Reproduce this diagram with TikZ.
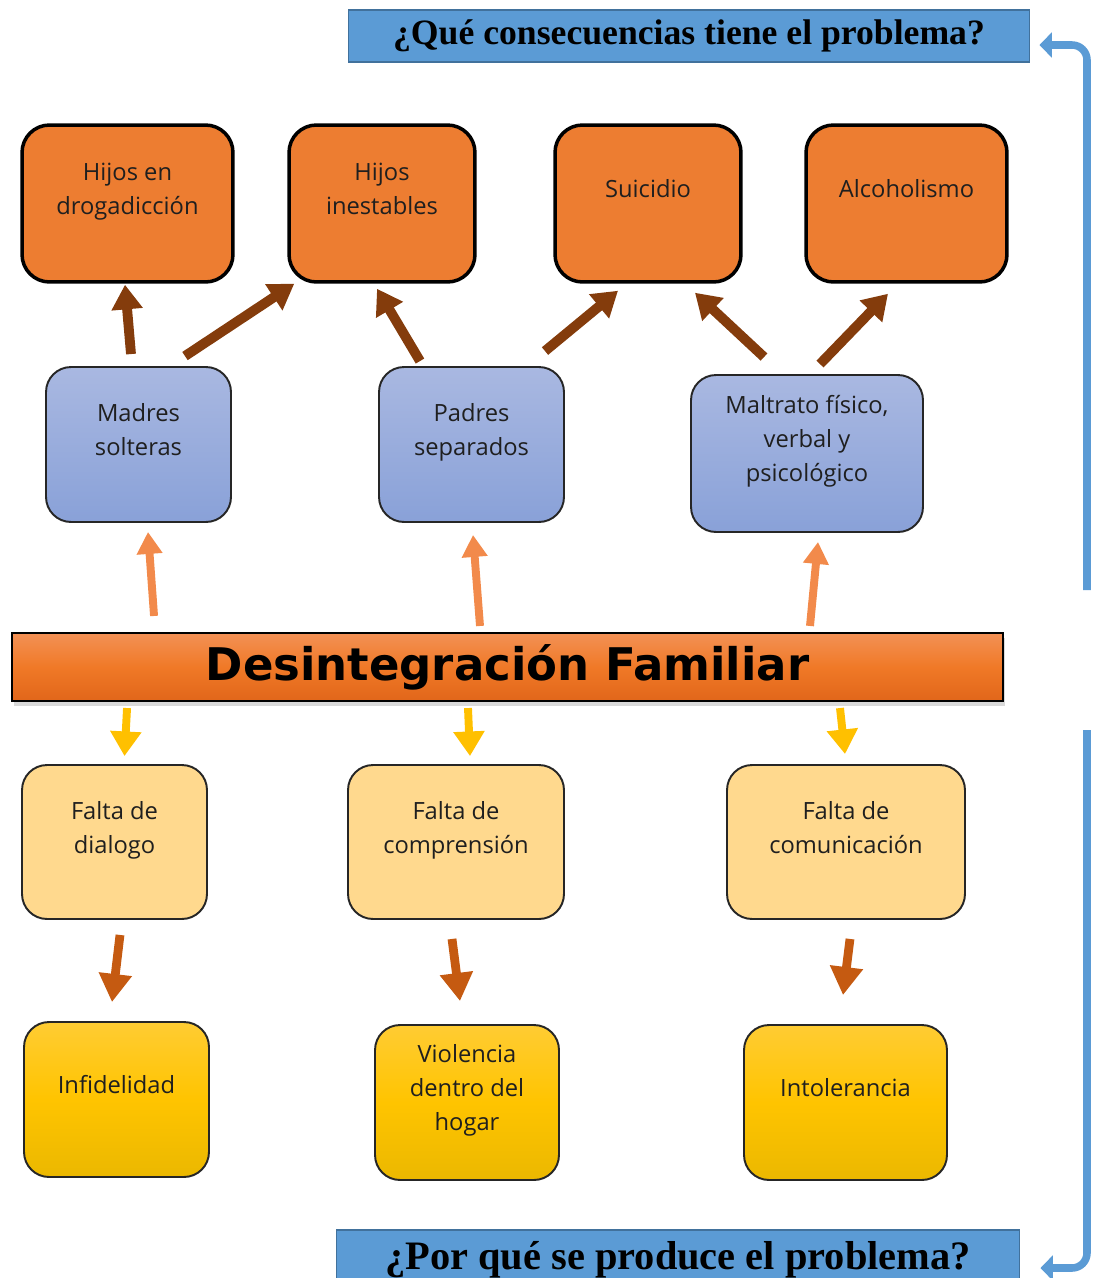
\documentclass[tikz,border=0pt]{standalone}
\usepackage{fontspec}
\setmainfont{Open Sans}
\newfontfamily\titlefont{DejaVu Sans}
\newfontfamily\questfont{Liberation Serif}
\usetikzlibrary{arrows.meta,shadows}

\definecolor{conseqfill}{HTML}{ED7D31}
\definecolor{causetop}{HTML}{A9B8E1}
\definecolor{causebot}{HTML}{89A1D8}
\definecolor{titletop}{HTML}{F39155}
\definecolor{titlemid}{HTML}{F07927}
\definecolor{titlebot}{HTML}{E1661A}
\definecolor{lackfill}{HTML}{FFD98E}
\definecolor{roottop}{HTML}{FFCC33}
\definecolor{rootmid}{HTML}{FFC400}
\definecolor{rootbot}{HTML}{EBB800}
\definecolor{questfill}{HTML}{5B9BD5}
\definecolor{questline}{HTML}{41719C}
\definecolor{arrbrown}{HTML}{843C0C}
\definecolor{arrorange}{HTML}{F28A4B}
\definecolor{arryellow}{HTML}{FFC000}
\definecolor{arrrust}{HTML}{C55A11}

\begin{document}
\begin{tikzpicture}[x=0.02cm,y=-0.02cm]
   \tikzstyle{every node}=[font=\fontsize{13.5}{19.3}\selectfont, text=black!88, align=center, inner sep=0pt]
   \tikzstyle{conseq}=[draw=black, line width=2pt, fill=conseqfill, rounded corners=0.55cm, minimum height=3.14cm, text depth=17pt]
   \tikzstyle{cause}=[draw=black!85, line width=1.1pt, top color=causetop, bottom color=causebot, rounded corners=0.5cm, text depth=17pt]
   \tikzstyle{lack}=[draw=black!85, line width=1.1pt, fill=lackfill, rounded corners=0.5cm, minimum height=3.08cm, text depth=17pt]
   \tikzstyle{root}=[draw=black!85, line width=1.1pt, top color=roottop, bottom color=rootbot, middle color=rootmid, rounded corners=0.5cm, minimum height=3.1cm, text depth=17pt]
   \tikzstyle{quest}=[draw=questline, line width=0.6pt, fill=questfill, text=black, font=\questfont\bfseries]
   \tikzstyle{brownarrow}=[draw=arrbrown, line width=5.6pt, -{Triangle[width=17pt,length=14pt]}]
   \tikzstyle{uparrow}=[draw=arrorange, line width=4.5pt, -{Triangle[width=14pt,length=12.5pt]}]
   \tikzstyle{downarrow}=[draw=arryellow, line width=4.5pt, -{Triangle[width=17pt,length=14pt]}]
   \tikzstyle{rustarrow}=[draw=arrrust, line width=5pt, -{Triangle[width=18pt,length=16pt]}]
   \tikzstyle{bracket}=[draw=questfill, line width=4.3pt, rounded corners=0.3cm, -{Triangle[width=14pt,length=7pt]}]

\useasboundingbox (0,0) rectangle (1093,1278);

\node[quest, minimum width=13.64cm, minimum height=1.04cm, font=\questfont\bfseries\fontsize{20.3}{24}\selectfont] (qtop) at (689,36) {¿Qué consecuencias tiene el problema?};
\node[quest, minimum width=13.68cm, minimum height=1.2cm, font=\questfont\bfseries\fontsize{23}{27}\selectfont] (qbot) at (678,1260) {¿Por qué se produce el problema?};

\node[conseq, minimum width=4.22cm] (hdrog) at (127.5,203.5) {Hijos en\\drogadicción};
\node[conseq, minimum width=3.72cm] (hinest) at (382,203.5) {Hijos\\inestables};
\node[conseq, minimum width=3.72cm] (suic) at (648,203.5) {Suicidio};
\node[conseq, minimum width=4.02cm] (alcoh) at (906.5,203.5) {Alcoholismo};

\node[cause, minimum width=3.7cm, minimum height=3.1cm] (madres) at (138.5,444.5) {Madres\\solteras};
\node[cause, minimum width=3.7cm, minimum height=3.1cm] (padres) at (471.5,444.5) {Padres\\separados};
\node[cause, minimum width=4.64cm, minimum height=3.14cm] (maltrato) at (807,453.5) {Maltrato físico,\\verbal y\\psicológico};

\node[draw=black, line width=1.2pt, top color=titletop, bottom color=titlebot, middle color=titlemid,
      minimum width=19.82cm, minimum height=1.36cm, text=black,
      drop shadow={shadow xshift=1pt, shadow yshift=-3pt, opacity=0.3},
      font=\titlefont\bfseries\fontsize{25.6}{30}\selectfont] (familia) at (507.5,667) {Desintegración Familiar};

\node[lack, minimum width=3.7cm] (fdialogo) at (114.5,842) {Falta de\\dialogo};
\node[lack, minimum width=4.32cm] (fcompr) at (456,842) {Falta de\\comprensión};
\node[lack, minimum width=4.76cm] (fcomun) at (846,842) {Falta de\\comunicación};

\node[root, minimum width=3.7cm] (infid) at (116.5,1099.5) {Infidelidad};
\node[root, minimum width=3.68cm] (violen) at (467,1102.5) {Violencia\\dentro del\\hogar};
\node[root, minimum width=4.06cm] (intol) at (845.5,1102.5) {Intolerancia};

\draw[brownarrow] ([shift={(-7.5,-12)}]madres.north) -- ([shift={(-2.5,1)}]hdrog.south);
\draw[brownarrow] ([shift={(46.5,-10)}]madres.north) -- ([shift={(7,0)}]hinest.south west);
\draw[brownarrow] ([shift={(-51.5,-5)}]padres.north) -- ([shift={(-5,5)}]hinest.south);
\draw[brownarrow] ([shift={(73.5,-15)}]padres.north) -- ([shift={(-30,7)}]suic.south);
\draw[brownarrow] ([shift={(-43,-17)}]maltrato.north) -- ([shift={(47,9)}]suic.south);
\draw[brownarrow] ([shift={(13,-10)}]maltrato.north) -- ([shift={(-18.5,10)}]alcoh.south);

\draw[uparrow] ([shift={(143,-16)}]familia.north west) -- ([shift={(9.5,9)}]madres.south);
\draw[uparrow] ([shift={(-27.5,-6)}]familia.north) -- ([shift={(1.5,12)}]padres.south);
\draw[uparrow] ([shift={(302.5,-6)}]familia.north) -- ([shift={(11,9)}]maltrato.south);

\draw[downarrow] ([shift={(116,6)}]familia.south west) -- ([shift={(10,-8)}]fdialogo.north);
\draw[downarrow] ([shift={(-39.5,6)}]familia.south) -- ([shift={(14,-8)}]fcompr.north);
\draw[downarrow] ([shift={(332.5,6)}]familia.south) -- ([shift={(-1,-10)}]fcomun.north);

\draw[rustarrow] ([shift={(5.5,15)}]fdialogo.south) -- ([shift={(-4.5,-19)}]infid.north);
\draw[rustarrow] ([shift={(-4,19)}]fcompr.south) -- ([shift={(-7,-23)}]violen.north);
\draw[rustarrow] ([shift={(4,19)}]fcomun.south) -- ([shift={(-2.5,-29)}]intol.north);

\coordinate (toptail) at (1087,590);
\coordinate (bottail) at (1087,730);
\draw[bracket] (toptail) |- ([shift={(9,9)}]qtop.east);
\draw[bracket] (bottail) |- ([shift={(20,8)}]qbot.east);

\end{tikzpicture}
\end{document}
